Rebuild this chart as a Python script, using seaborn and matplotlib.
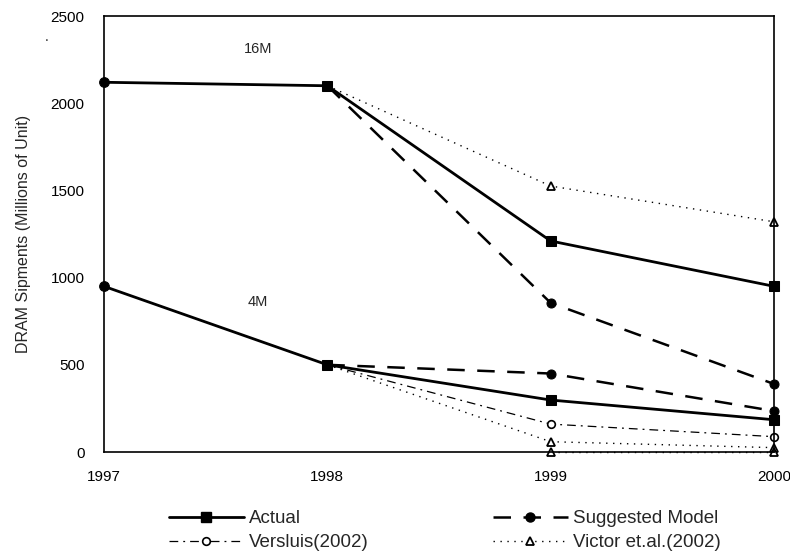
import numpy as np
import pandas as pd
import matplotlib
matplotlib.use("Agg")
import matplotlib.pyplot as plt
import seaborn as sns
from matplotlib.lines import Line2D

# ---- data ----
years = [1997, 1998, 1999, 2000]
hist_16m = [2120, 2100, np.nan, np.nan]
hist_4m = [950, 500, np.nan, np.nan]
actual_16m = [np.nan, 2100, 1210, 950]
actual_4m = [np.nan, 500, 298, 185]
suggested_16m = [np.nan, 2100, 855, 390]
suggested_4m = [np.nan, 500, 450, 235]
versluis_4m = [np.nan, 500, 160, 88]
victor_16m = [np.nan, 2100, 1525, 1320]
victor_4m = [np.nan, 500, 59, 25]
victor_zero = [np.nan, np.nan, 0, 0]
y_ticks = [0, 500, 1000, 1500, 2000, 2500]
legend_labels = ["Actual", "Versluis(2002)", "Suggested Model", "Victor et.al.(2002)"]

sns.set_theme(style="white")
plt.rcParams['font.family'] = ['Liberation Sans', 'DejaVu Sans']

fig = plt.figure(figsize=(7.9, 5.54), dpi=100)
ax = fig.add_axes([104/790, 1-452/554, (774-104)/790, (452-16)/554])

k = dict(color="black", ax=ax, legend=False, clip_on=False)

ACT = dict(lw=2.0, linestyle="-", marker="s", markersize=6.5, markeredgecolor="black")
SUG = dict(lw=1.8, linestyle=(0, (7, 5)), marker="o", markersize=6.5, markeredgecolor="black")
VER = dict(lw=0.9, linestyle=(0, (7, 4, 1.5, 4)), marker="o", markersize=5.5,
           markerfacecolor="white", markeredgecolor="black", markeredgewidth=1.2)
VIC = dict(lw=1.0, linestyle=(0, (1, 4)), marker="^", markersize=6,
           markerfacecolor="white", markeredgecolor="black", markeredgewidth=1.3)

# historical segment 1997-1998
for hh in (hist_16m, hist_4m):
    sns.lineplot(x=years, y=hh, lw=2.0, marker="o", markersize=7,
                 markevery=[0], markeredgecolor="black", **k)
for v in (victor_16m, victor_4m, victor_zero):
    sns.lineplot(x=years, y=v, **VIC, **k)
sns.lineplot(x=years, y=versluis_4m, **VER, **k)
for s in (suggested_16m, suggested_4m):
    sns.lineplot(x=years, y=s, **SUG, **k)
for a in (actual_16m, actual_4m):
    sns.lineplot(x=years, y=a, **ACT, **k)

ax.set_xlim(1997, 2000)
ax.set_ylim(0, 2500)
ax.set_xticks(years)
ax.set_xticklabels([str(y) for y in years])
ax.set_yticks(y_ticks)
ax.set_yticklabels([str(t) for t in y_ticks])
ax.tick_params(axis="both", direction="in", length=3, width=0.8,
               colors="black", labelsize=11)
ax.tick_params(axis="x", pad=13)
ax.tick_params(axis="y", pad=14)
for sp in ax.spines.values():
    sp.set_visible(True)
    sp.set_color("black")
    sp.set_linewidth(1.2)
ax.grid(False)
ax.set_ylabel("DRAM Sipments (Millions of Unit)", fontsize=11.5, labelpad=14)

ax.text(1997.69, 2310, "16M", fontsize=10.5, ha="center", va="center")
ax.text(1997.69, 860, "4M", fontsize=10.5, ha="center", va="center")
fig.text(47/790, 1-37/554, ".", fontsize=10, ha="center", va="center")

def mk(style):
    return Line2D([], [], color="black", **style)

handles = [mk(ACT), mk(VER), mk(SUG), mk(VIC)]
fig.legend(handles, legend_labels, loc="upper left", bbox_to_anchor=(0.204, 0.093),
           ncol=2, frameon=False, fontsize=13.5, handlelength=4.0, columnspacing=6.6,
           labelspacing=0.38, handletextpad=0.3, numpoints=1, borderaxespad=0)

fig.savefig("out.png", dpi=100)
